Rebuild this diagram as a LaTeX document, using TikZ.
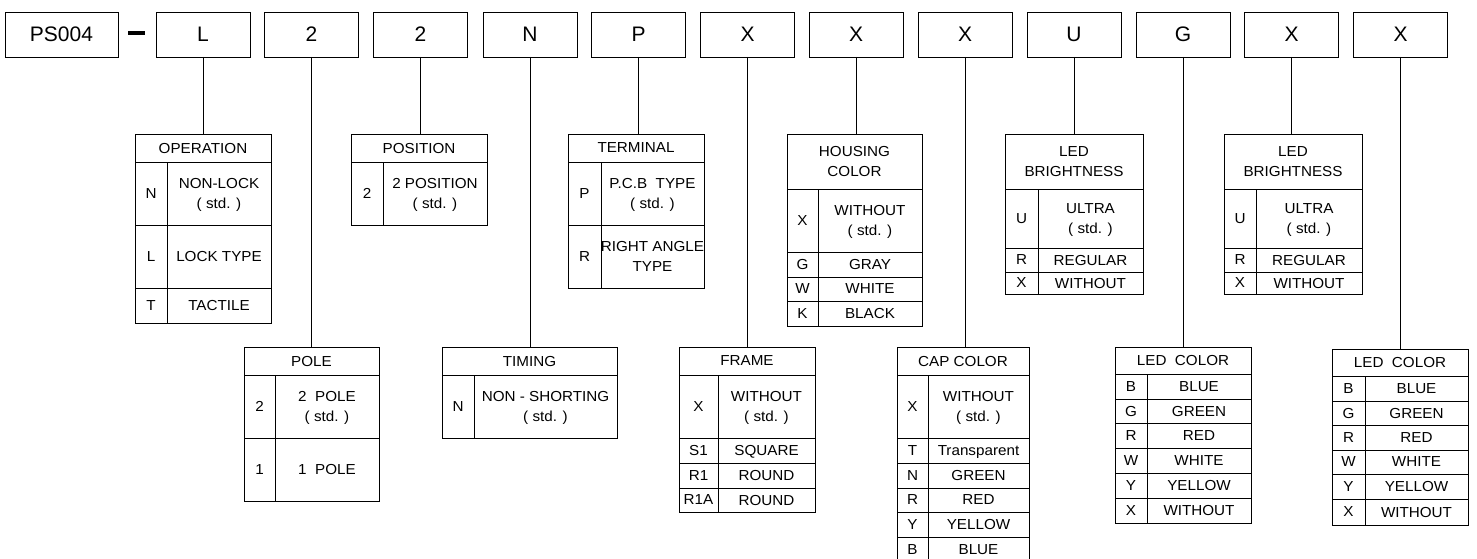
\documentclass[tikz,border=0pt]{standalone}
\usepackage{fontspec}
\setmainfont{Liberation Sans}
\newfontfamily\cellfont[FakeStretch=1.05]{Liberation Sans}
\tikzset{
  tline/.style={line width=0.9pt, draw=black},
  topbox/.style={draw=black, line width=0.9pt, minimum width=94pt, minimum height=45pt, inner sep=0pt, outer sep=0pt, font=\fontsize{21}{24}\selectfont},
  tframe/.style={draw=black, line width=0.9pt, inner sep=0pt, outer sep=0pt, anchor=north west},
  cell/.style={inner sep=0pt, align=center, text depth=0pt, font=\cellfont\fontsize{14.5}{19.5}\selectfont},
}
\newcommand\codetable[9]{%
  % #1 name, #2 left, #3 right, #4 divider, #5 top, #6 header bottom, #7 header, #8 rows, #9 bottom
  \node[tframe, minimum width={(#3-#2)*1pt}, minimum height={(#9-#5)*1pt}] (#1) at (#2,#5) {};
  \node[cell] (#1-h) at ({(#2+#3)/2},{(#5+#6)/2}) {#7};
  \draw[tline] (#2,#6) -- (#3,#6);
  \draw[tline] (#4,#6) -- (#4,#9);
  \foreach \yb/\cc/\dd [count=\i, remember=\yb as \yp (initially #6)] in {#8} {
    \node[cell] (#1-c\i) at ({(#2+#4)/2},{(\yp+\yb)/2}) {\cc};
    \node[cell] (#1-d\i) at ({(#4+#3)/2},{(\yp+\yb)/2}) {\dd};
    \draw[tline] (#2,\yb) -- (#3,\yb);
  }%
}
\begin{document}
\begin{tikzpicture}[x=1pt,y=-1pt]
\useasboundingbox (0,0) rectangle (1477,559);
% top row
\node[topbox, minimum width=113pt] (ps) at (61.5,34.5) {PS004};
\node[fill=black, minimum width=17pt, minimum height=4pt, inner sep=0pt] (dash) at (136.5,33.5) {};
\node[topbox] (b1) at (203,34.5) {L};
\node[topbox] (b2) at (311.5,34.5) {2};
\node[topbox] (b3) at (420.5,34.5) {2};
\node[topbox] (b4) at (530,34.5) {N};
\node[topbox] (b5) at (638.5,34.5) {P};
\node[topbox] (b6) at (747.5,34.5) {X};
\node[topbox] (b7) at (856,34.5) {X};
\node[topbox] (b8) at (965,34.5) {X};
\node[topbox] (b9) at (1074,34.5) {U};
\node[topbox] (b10) at (1183,34.5) {G};
\node[topbox] (b11) at (1291.5,34.5) {X};
\node[topbox] (b12) at (1400.5,34.5) {X};

% tables
\codetable{op}{135}{271}{167}{134}{162}{OPERATION}
  {225/N/{NON-LOCK\\( std. )}, 288/L/{LOCK TYPE}, 323/T/{TACTILE}}{323}
\codetable{pos}{351}{487}{383}{134}{162}{POSITION}
  {225/2/{2 POSITION\\( std. )}}{225}
\codetable{pole}{244}{379}{275}{347}{375}{POLE}
  {438/2/{2~~POLE\\( std. )}, 501/1/{1~~POLE}}{501}
\codetable{tim}{442}{617}{474}{347}{375}{TIMING}
  {438/N/{NON - SHORTING\\( std. )}}{438}
\codetable{ter}{568}{704}{601}{134}{162}{TERMINAL}
  {225/P/{P.C.B~~TYPE\\( std. )}, 288/R/{RIGHT ANGLE\\TYPE}}{288}
\codetable{fr}{679}{815}{718}{347}{375}{FRAME}
  {438/X/{WITHOUT\\( std. )}, 463/S1/{SQUARE}, 488/R1/{ROUND}, 512/R1A/{ROUND}}{512}
\codetable{hc}{787}{922}{818}{134}{189}{HOUSING\\COLOR}
  {252/X/{WITHOUT\\( std. )}, 277/G/{GRAY}, 301/W/{WHITE}, 326/K/{BLACK}}{326}
\codetable{cap}{897}{1029}{928}{347}{375}{CAP COLOR}
  {438/X/{WITHOUT\\( std. )}, 463/T/{Transparent}, 488/N/{GREEN}, 512/R/{RED}, 537/Y/{YELLOW}, 562/B/{BLUE}}{562}
\codetable{lb1}{1005}{1143}{1038}{134}{189}{LED\\BRIGHTNESS}
  {248/U/{ULTRA\\( std. )}, 272/R/{REGULAR}, 294/X/{WITHOUT}}{294}
\codetable{lc1}{1115}{1251}{1147}{347}{374}{LED~~COLOR}
  {399/B/{BLUE}, 423/G/{GREEN}, 448/R/{RED}, 473/W/{WHITE}, 498/Y/{YELLOW}, 523/X/{WITHOUT}}{523}
\codetable{lb2}{1224}{1362}{1256}{134}{189}{LED\\BRIGHTNESS}
  {248/U/{ULTRA\\( std. )}, 272/R/{REGULAR}, 294/X/{WITHOUT}}{294}
\codetable{lc2}{1332}{1468}{1365}{349}{376}{LED~~COLOR}
  {401/B/{BLUE}, 425/G/{GREEN}, 450/R/{RED}, 474/W/{WHITE}, 499/Y/{YELLOW}, 525/X/{WITHOUT}}{525}

% connectors
\draw[tline] (b1.south) -- (b1.south |- op.north);
\draw[tline] (b2.south) -- (b2.south |- pole.north);
\draw[tline] (b3.south) -- (b3.south |- pos.north);
\draw[tline] (b4.south) -- (b4.south |- tim.north);
\draw[tline] (b5.south) -- (b5.south |- ter.north);
\draw[tline] (b6.south) -- (b6.south |- fr.north);
\draw[tline] (b7.south) -- (b7.south |- hc.north);
\draw[tline] (b8.south) -- (b8.south |- cap.north);
\draw[tline] (b9.south) -- (b9.south |- lb1.north);
\draw[tline] (b10.south) -- (b10.south |- lc1.north);
\draw[tline] (b11.south) -- (b11.south |- lb2.north);
\draw[tline] (b12.south) -- (b12.south |- lc2.north);
\end{tikzpicture}
\end{document}
